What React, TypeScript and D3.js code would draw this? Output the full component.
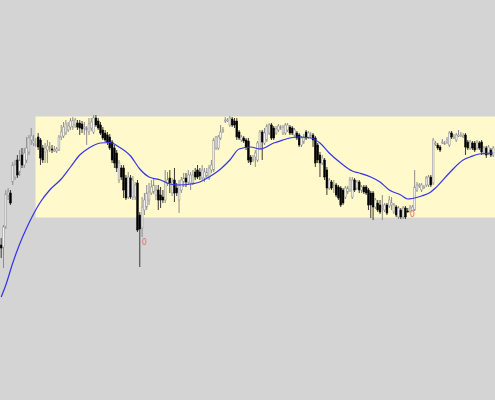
import * as d3 from 'd3';

const W = 495;
const H = 400;

// [open, high, low, close]
const bars: [number, number, number, number][] = [
  [155, 162, 142, 152], [153, 175, 132, 173], [173, 210, 171, 206], [205, 212, 200, 208],
  [207, 210, 195, 197], [218, 238, 215, 235], [223, 240, 220, 235], [240, 245, 222, 225],
  [228, 250, 224, 240], [245, 252, 232, 235], [235, 252, 232, 247], [240, 263, 237, 252],
  [248, 265, 245, 262], [260, 272, 255, 264], [257, 265, 254, 259], [255, 262, 253, 256],
  [263, 267, 250, 253], [260, 262, 235, 242], [252, 255, 237, 240], [248, 257, 237, 252],
  [250, 260, 237, 254], [252, 258, 248, 253], [251, 255, 247, 250], [250, 254, 248, 250],
  [249, 253, 247, 251], [250, 265, 249, 263], [263, 275, 260, 268], [264, 278, 262, 273],
  [267, 280, 265, 276], [270, 278, 268, 274],
  // 30
  [273, 282, 270, 279], [273, 283, 270, 280], [275, 282, 272, 280], [277, 280, 270, 273],
  [277, 280, 265, 272], [276, 279, 267, 271], [273, 278, 265, 273], [270, 274, 255, 272],
  [268, 282, 265, 276], [272, 282, 269, 278], [268, 285, 266, 282], [282, 285, 273, 275],
  [279, 282, 270, 272], [275, 278, 265, 267], [270, 273, 260, 262], [267, 270, 258, 260],
  [265, 268, 255, 258], [263, 266, 250, 252], [258, 260, 237, 240], [252, 255, 232, 237],
  [247, 250, 228, 232], [220, 240, 217, 237], [232, 235, 220, 223], [232, 235, 202, 210],
  [222, 225, 200, 202], [203, 228, 201, 223], [222, 225, 201, 203], [203, 224, 200, 220],
  [203, 218, 200, 215], [217, 220, 168, 170],
  // 60
  [185, 188, 133, 171], [172, 203, 163, 193], [190, 207, 185, 200], [193, 215, 190, 207],
  [200, 217, 195, 208], [207, 220, 205, 213], [208, 222, 206, 215], [205, 215, 200, 210],
  [210, 215, 190, 200], [205, 213, 192, 200], [203, 210, 197, 200], [200, 230, 197, 218],
  [217, 228, 214, 220], [222, 230, 207, 217], [207, 222, 204, 218], [220, 232, 198, 207],
  [212, 217, 204, 207], [200, 220, 187, 215], [210, 223, 207, 220], [218, 227, 213, 222],
  [222, 227, 213, 218], [218, 230, 215, 225], [217, 228, 210, 225], [217, 230, 215, 225],
  [228, 232, 220, 223], [230, 235, 221, 223], [228, 232, 220, 224], [222, 235, 220, 230],
  [222, 232, 218, 228], [224, 232, 222, 228], [222, 235, 220, 232], [230, 240, 227, 235],
  // 92
  [230, 262, 228, 260], [252, 264, 250, 263], [252, 265, 250, 263], [262, 275, 260, 268],
  [269, 273, 267, 270], [279, 283, 277, 280], [279, 282, 278, 280], [275, 284, 273, 282],
  [281, 283, 273, 275], [279, 282, 272, 275], [279, 282, 260, 263], [268, 270, 260, 262],
  [260, 265, 258, 263], [262, 264, 257, 259], [260, 262, 250, 253], [259, 262, 237, 240],
  [243, 245, 235, 238], [240, 245, 238, 241], [243, 250, 233, 247], [240, 259, 238, 257],
  [252, 270, 250, 268], [268, 270, 240, 258], [257, 272, 255, 267], [260, 276, 258, 274],
  [267, 277, 265, 275], [275, 277, 260, 262], [272, 274, 260, 262], [267, 274, 265, 271],
  [270, 276, 268, 274],
  // 121
  [272, 275, 270, 273], [267, 275, 265, 273], [267, 277, 265, 275], [270, 277, 268, 275],
  [273, 275, 265, 267], [272, 274, 265, 267], [265, 272, 263, 270], [267, 269, 260, 262],
  [265, 267, 253, 255], [255, 264, 253, 262], [258, 266, 256, 263], [268, 270, 260, 262],
  [263, 269, 261, 267], [265, 268, 262, 265], [265, 267, 253, 260], [262, 264, 233, 237],
  [255, 257, 237, 240], [245, 248, 223, 237], [237, 245, 235, 242], [240, 242, 220, 223],
  [230, 233, 205, 212], [212, 222, 210, 220], [218, 220, 210, 212], [215, 220, 207, 215],
  [215, 217, 203, 205], [213, 215, 200, 202], [212, 214, 193, 195], [210, 212, 195, 197],
  [203, 214, 201, 212], [208, 214, 206, 212], [210, 223, 208, 220],
  // 152
  [203, 223, 201, 220], [220, 222, 208, 210], [212, 220, 210, 218], [218, 220, 207, 210],
  [210, 215, 207, 213], [213, 215, 206, 208], [213, 215, 205, 207], [210, 212, 190, 195],
  [207, 209, 182, 195], [207, 209, 180, 193], [193, 202, 191, 200], [197, 200, 188, 190],
  [195, 200, 186, 188], [193, 205, 180, 193], [190, 197, 188, 195], [195, 197, 185, 187],
  [194, 204, 192, 200], [195, 203, 190, 197], [188, 197, 186, 195], [193, 195, 183, 185],
  [183, 194, 181, 192], [190, 192, 181, 183], [183, 194, 181, 192], [192, 194, 181, 183],
  [189, 192, 187.5, 188], [188, 195, 188, 192], [189, 195, 189, 193], [190, 230, 189, 213],
  [210, 218, 208, 215], [215, 217, 212, 215], [210, 217, 208, 215],
  // 183
  [213, 215, 211, 213], [215, 224, 213, 222], [215, 225, 213, 223], [223, 225, 213, 215],
  [217, 262, 215, 260], [257, 259, 254, 257], [255, 257, 250, 252], [253, 255, 248, 250],
  [258, 261, 256, 258], [257, 259, 255, 257], [258, 263, 256, 260], [255, 269, 253, 267],
  [267, 269, 261, 263], [263, 266, 261, 263], [260, 267, 258, 265], [265, 270, 263, 265],
  [265, 268, 263, 265], [264, 267, 262, 264], [265, 267, 245, 253], [258, 260, 250, 252],
  [252, 260, 250, 258], [257, 259, 250, 252], [257, 259, 248, 250], [252, 260, 250, 258],
  [257, 259, 250, 252], [258, 260, 245, 248], [247, 254, 245, 252], [252, 254, 242, 245],
  [247, 255, 245, 253], [250, 252, 243, 245], [245, 254, 243, 252],
];

// moving average, read at these bar indices
const maIndex = [0, 2, 5, 8, 11, 14, 17, 21, 26, 30, 34, 38, 43, 47, 51, 56, 60, 64, 69, 73, 77, 82, 86, 90, 95, 99,
  103, 108, 112, 118, 122, 125, 129, 134, 138, 142, 147, 152, 155, 160, 164, 168, 173, 176, 178, 182, 186, 188, 194,
  200, 203, 207, 213];
const maValues = [103, 115, 137, 156, 172, 186, 198, 210, 221, 233, 245, 252, 257, 257.5, 253, 244, 231, 223, 220, 216,
  215, 216, 218, 223, 231, 240, 251, 253, 251, 257, 260, 262, 263, 262, 257, 247, 237, 229, 227, 223, 218, 210, 205,
  201, 201.5, 204, 208, 212, 227, 240, 243, 246, 247];

const markerIndex = [62, 178];
const markerValues = [158, 185.5];

const bandStart = 14.85;
const bandHigh = 283.5;
const bandLow = 182.5;

export default function App() {
  const x = d3.scaleLinear().domain([0, bars.length - 1]).range([1.2, 493.2]);
  const y = d3.scaleLinear().domain([0, 400]).range([H, 0]);
  const bw = 1.8;

  const maLine = d3
    .line<number>()
    .x((d, i) => x(maIndex[i]))
    .y((d) => y(d))
    .curve(d3.curveMonotoneX)(maValues);

  return (
    <div style={{ position: 'fixed', left: 0, top: 0 }}>
      <svg width={W} height={H} style={{ display: 'block' }}>
        <rect x={0} y={0} width={W} height={H} fill="#d4d4d4" />
        <rect
          x={x(bandStart)}
          y={y(bandHigh)}
          width={W - x(bandStart)}
          height={y(bandLow) - y(bandHigh)}
          fill="#fff9cc"
        />
        <g>
          {bars.map(([o, h, l, c], i) => {
            const up = c >= o;
            const cx = x(i);
            const top = y(Math.max(o, c));
            const bh = Math.max(1, y(Math.min(o, c)) - top);
            return (
              <g key={i}>
                <line x1={cx} x2={cx} y1={y(h)} y2={y(l)} stroke={up ? '#8c8c8c' : '#3a3a3a'} strokeWidth={1} />
                <rect
                  x={cx - bw / 2}
                  y={top}
                  width={bw}
                  height={bh}
                  fill={up ? '#f2f2f2' : '#000'}
                  stroke={up ? '#8c8c8c' : '#000'}
                  strokeWidth={0.5}
                />
              </g>
            );
          })}
        </g>
        <path d={maLine ?? ''} fill="none" stroke="#3434e6" strokeWidth={1.2} />
        {markerIndex.map((m, i) => (
          <text
            key={i}
            x={x(m)}
            y={y(markerValues[i])}
            textAnchor="middle"
            dominantBaseline="middle"
            fontSize={8}
            fontFamily="DejaVu Sans, sans-serif"
            fill="#ec6a6a"
          >
            0
          </text>
        ))}
      </svg>
    </div>
  );
}
